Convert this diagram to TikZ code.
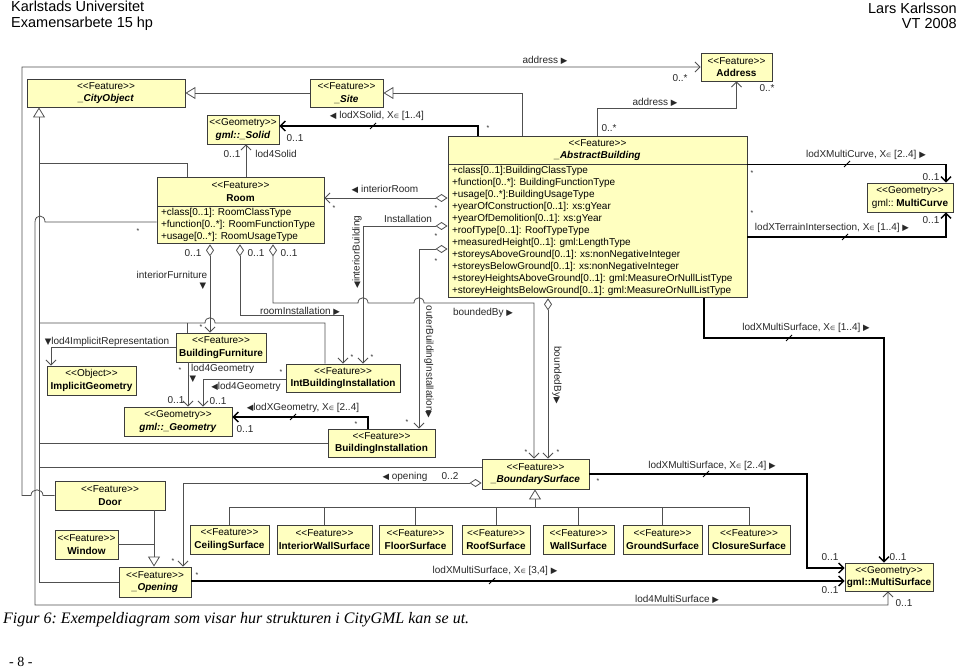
\documentclass[tikz,border=0pt]{standalone}
\usepackage{fontspec}
\setmainfont{Liberation Sans}
\newfontfamily\capfont{Liberation Serif}
\newfontfamily\symfont{DejaVu Sans}
\usetikzlibrary{arrows.meta}

\definecolor{umlyellow}{RGB}{255,255,192}
\definecolor{boxline}{RGB}{60,60,60}
\definecolor{linegray}{RGB}{80,80,80}
\definecolor{labelgray}{RGB}{40,40,40}

\newcommand\uml{\fontsize{10}{12.5}\selectfont}
\newcommand\st[1]{<{}<#1>{}>}
\newcommand\rtri{{\symfont\fontsize{8.5}{8.5}\selectfont ▶}}
\newcommand\ltri{{\symfont\fontsize{8.5}{8.5}\selectfont ◀}}
\newcommand\dtri{{\symfont\fontsize{8.5}{8.5}\selectfont ▼}}
\newcommand\xin{X{\symfont\fontsize{6}{6}\selectfont ∈}}
\newcommand\mult{{\fontsize{7}{7}\selectfont *}}

\begin{document}
\frenchspacing
\hyphenpenalty=10000
\begin{tikzpicture}[x=1pt, y=-1pt,
  cls/.style={draw=boxline, fill=umlyellow, line width=0.9pt, inner sep=1pt, align=center, font=\uml},
  attrs/.style={cls, anchor=north, align=left, inner xsep=4pt, inner ysep=1pt, font=\fontsize{10}{12}\selectfont},
  conn/.style={draw=linegray, line width=0.8pt},
  assoc/.style={conn, -{Straight Barb[length=5pt, width=10pt]}},
  agg/.style={conn, {Diamond[open, length=12pt, width=8pt]}-{Straight Barb[length=5pt, width=10pt]}},
  geo/.style={draw=black, line width=1.4pt, -{Straight Barb[length=5pt, width=10pt]}},
  gen/.style={conn, -{Triangle[open, length=10pt, width=12pt]}},
  lbl/.style={font=\uml, text=labelgray, inner sep=0pt},
  tick/.style={draw=black, line width=1pt}
]
\fill[white] (0,0) rectangle (959,668);
\useasboundingbox (0,0) rectangle (959,668);

% Sidhuvud
\node[anchor=west, align=left, inner sep=0pt, font=\fontsize{14.5}{15.5}\selectfont] (uni) at (11,16) {Karlstads Universitet\\Examensarbete 15 hp};
\node[anchor=east, align=right, inner sep=0pt, font=\fontsize{14.5}{15.5}\selectfont] (author) at (957,16) {Lars Karlsson\\VT 2008};

% Klasser
\node[cls, minimum width=158, minimum height=28] (cityobj) at (106,93) {\st{Feature}\\\textbf{\textit{\_CityObject}}};
\node[cls, minimum width=73, minimum height=28] (site) at (346.5,93) {\st{Feature}\\\textbf{\textit{\_Site}}};
\node[cls, minimum width=71, minimum height=28] (address) at (736.5,67) {\st{Feature}\\\textbf{Address}};
\node[cls, minimum width=72, minimum height=29] (solid) at (243,129.5) {\st{Geometry}\\\textbf{\textit{gml::\_Solid}}};

\node[cls, minimum width=299, minimum height=28] (abstr) at (597.5,150) {\st{Feature}\\\textbf{\textit{\_AbstractBuilding}}};
\node[attrs, minimum width=299, minimum height=133, text width=291] (abstrattr) at (abstr.south) {%
  +class[0..1]:BuildingClassType\\
  +function[0..*]: BuildingFunctionType\\
  +usage[0..*]:BuildingUsageType\\
  +yearOfConstruction[0..1]: xs:gYear\\
  +yearOfDemolition[0..1]: xs:gYear\\
  +roofType[0..1]: RoofTypeType\\
  +measuredHeight[0..1]: gml:LengthType\\
  +storeysAboveGround[0..1]: xs:nonNegativeInteger\\
  +storeysBelowGround[0..1]: xs:nonNegativeInteger\\
  +storeyHeightsAboveGround[0..1]: gml:MeasureOrNullListType\\
  +storeyHeightsBelowGround[0..1]: gml:MeasureOrNullListType};

\node[cls, minimum width=167, minimum height=29] (room) at (240.5,191.5) {\st{Feature}\\\textbf{Room}};
\node[attrs, minimum width=167, minimum height=37, text width=159] (roomattr) at (room.south) {%
  +class[0..1]: RoomClassType\\
  +function[0..*]: RoomFunctionType\\
  +usage[0..*]: RoomUsageType};

\node[cls, minimum width=86, minimum height=29] (multicurve) at (910,197.5) {\st{Geometry}\\gml:: \textbf{MultiCurve}};
\node[cls, minimum width=90, minimum height=29] (furniture) at (221,347.5) {\st{Feature}\\\textbf{BuildingFurniture}};
\node[cls, minimum width=89, minimum height=29] (implicit) at (91.5,380.5) {\st{Object}\\\textbf{ImplicitGeometry}};
\node[cls, minimum width=114, minimum height=28] (intinst) at (343,378) {\st{Feature}\\\textbf{IntBuildingInstallation}};
\node[cls, minimum width=108, minimum height=29] (geometry) at (178,421.5) {\st{Geometry}\\\textbf{\textit{gml::\_Geometry}}};
\node[cls, minimum width=107, minimum height=28] (bldinst) at (381.5,443) {\st{Feature}\\\textbf{BuildingInstallation}};
\node[cls, minimum width=107, minimum height=30] (boundary) at (535.5,474) {\st{Feature}\\\textbf{\textit{\_BoundarySurface}}};
\node[cls, minimum width=110, minimum height=29] (door) at (110,495.5) {\st{Feature}\\\textbf{Door}};
\node[cls, minimum width=63, minimum height=29] (window) at (86.5,544.5) {\st{Feature}\\\textbf{Window}};
\node[cls, minimum width=72, minimum height=30] (opening) at (155,582) {\st{Feature}\\\textbf{\textit{\_Opening}}};
\node[cls, minimum width=88, minimum height=28] (multisurf) at (889,577) {\st{Geometry}\\\textbf{gml::MultiSurface}};

% Ytor
\node[cls, minimum width=79, minimum height=29] (ceiling) at (229.5,539.5) {\st{Feature}\\\textbf{CeilingSurface}};
\node[cls, minimum width=95, minimum height=29] (intwall) at (324.5,539.5) {\st{Feature}\\\textbf{InteriorWallSurface}};
\node[cls, minimum width=73, minimum height=29] (floor) at (415.5,539.5) {\st{Feature}\\\textbf{FloorSurface}};
\node[cls, minimum width=68, minimum height=29] (roof) at (496,539.5) {\st{Feature}\\\textbf{RoofSurface}};
\node[cls, minimum width=71, minimum height=29] (wall) at (578.5,539.5) {\st{Feature}\\\textbf{WallSurface}};
\node[cls, minimum width=79, minimum height=29] (ground) at (662.5,539.5) {\st{Feature}\\\textbf{GroundSurface}};
\node[cls, minimum width=82, minimum height=29] (closure) at (749,539.5) {\st{Feature}\\\textbf{ClosureSurface}};

% Generalisering
\draw[gen] (site.west) -- (cityobj.east);
\draw[gen] (abstr.north -| 522,0) |- (site.east);
\draw[gen] (opening.west) -| (cityobj.south -| 39,0);
\draw[conn] (room.north -| 187,0) |- (39,163);
\draw[conn] (39,323) -- (205,323) .. controls (205,316) and (215,316) .. (215,323) -- (325,323) -- (intinst.north -| 325,0);
\draw[conn] (187,323) -- (furniture.north -| 187,0);
\draw[conn] (39,443) -- (bldinst.west);
\draw[conn] (39,467) -- (boundary.west |- 0,467);
\draw[gen] (door.south -| 154,0) -- (opening.north -| 154,0);
\draw[conn] (window.east) -- (window.east -| 154,0);
\draw[gen] (535,507) -- (boundary.south -| 535,0);
\draw[conn] (230,507) -- (749,507);
\foreach \s in {ceiling,intwall,floor,roof,wall,ground,closure}
  \draw[conn] (\s.north) -- (\s.north |- 0,507);

% Associationer
\draw[assoc] (door.west) -- (43,495.5) .. controls (43,488) and (31,488) .. (31,495.5) -- (22,495.5) -- (22,67) -- (address.west);
\draw[assoc] (abstr.north -| 597,0) |- (address.south |- 0,108) -- (address.south);
\draw[assoc] (room.north -| 246,0) -- (solid.south -| 246,0);
\draw[agg] (abstrattr.west |- 0,198) -- (room.east |- 0,198);
\draw[agg] (abstrattr.west |- 0,226) -| (intinst.north -| 363,0);
\draw[agg] (abstrattr.west |- 0,249) -| (bldinst.north -| 419,0);
\draw[agg] (roomattr.south -| 210,0) -- (furniture.north -| 210,0);
\draw[agg] (roomattr.south -| 240,0) |- (343,315) -- (intinst.north -| 343,0);
\draw[agg] (roomattr.south -| 273,0) -- (273,303) -- (358,303) .. controls (358,296) and (368,296) .. (368,303) -- (414,303) .. controls (414,296) and (424,296) .. (424,303) -- (534,303) -- (boundary.north -| 534,0);
\draw[agg] (abstrattr.south -| 548,0) -- (boundary.north -| 548,0);
\draw[agg] (boundary.west |- 0,483) -| (opening.north -| 183,0);
\draw[assoc] (furniture.west) -| (implicit.north -| 51,0);
\draw[assoc] (furniture.south -| 188,0) -- (geometry.north -| 188,0);
\draw[assoc] (intinst.west |- 0,379) -| (geometry.north -| 203,0);
\draw[assoc] (roomattr.west |- 0,222) -- (45,222) .. controls (45,214) and (35,214) .. (35,222) -- (35,605) -| (multisurf.south -| 888,0);

% Geometri
\draw[geo] (abstr.north -| 478,0) |- (solid.east |- 0,126);
\draw[geo] (bldinst.north -| 368,0) |- (geometry.east |- 0,417);
\draw[geo] (abstr.south east) -| (multicurve.north -| 946,0);
\draw[geo] (abstrattr.east |- 0,237) -| (multicurve.south -| 946,0);
\draw[geo] (abstrattr.south -| 704,0) |- (884,338) -- (multisurf.north -| 884,0);
\draw[geo] (boundary.east) -| (807,568) -- (multisurf.west |- 0,568);
\draw[geo] (opening.east |- 0,581) -- (multisurf.west |- 0,581);
\foreach \tx/\ty in {373/126, 293/417, 847/164, 845/237, 789/338, 706/474, 492/581}
  \draw[tick] (\tx-3,\ty+3) -- (\tx+3,\ty-3);

% Rollnamn
\node[lbl] (adr1) at (545,60) {address \rtri};
\node[lbl] (adr1m) at (680,78) {0..*};
\node[lbl] (adr2) at (655,102) {address \rtri};
\node[lbl] (adr2a) at (609,128) {0..*};
\node[lbl] (adr2b) at (767,88) {0..*};
\node[lbl] (solidl) at (377,116) {\ltri\ lodXSolid, \xin\ [1..4]};
\node[lbl] (solidm) at (295,138) {0..1};
\node[lbl] (solids) at (488,128) {\mult};
\node[lbl] (lod4sm) at (232,154) {0..1};
\node[lbl] (lod4sl) at (276,154) {lod4Solid};
\node[lbl] (iroom) at (385,189) {\ltri\ interiorRoom};
\node[lbl] (iroom1) at (334,208) {\mult};
\node[lbl] (iroom2) at (436,208) {\mult};
\node[lbl] (ibinst) at (408,219) {Installation};
\node[lbl, rotate=90] (ibuild) at (357,252) {\ltri interiorBuilding};
\node[lbl] (ibinst1) at (436,236) {\mult};
\node[lbl] (ibinst2) at (372,357) {\mult};
\node[lbl] (obinst1) at (436,261) {\mult};
\node[lbl, rotate=-90] (obinst) at (429,362) {outerBuildingInstallation\rtri};
\node[lbl] (obinst2) at (407,422) {\mult};
\node[lbl] (rd1) at (193,253) {0..1};
\node[lbl] (rd2) at (256,253) {0..1};
\node[lbl] (rd3) at (289,253) {0..1};
\node[lbl] (ifurn) at (172,275) {interiorFurniture};
\node[lbl] (ifurnt) at (203,286) {\dtri};
\node[lbl] (ifurn1) at (201,327) {\mult};
\node[lbl] (rinst) at (300,311) {roomInstallation \rtri};
\node[lbl] (rinst1) at (352,357) {\mult};
\node[lbl] (bby1) at (483,313) {boundedBy \rtri};
\node[lbl] (bby1s) at (526,452) {\mult};
\node[lbl, rotate=-90] (bby2) at (557,375) {boundedBy\rtri};
\node[lbl] (bby2s) at (558,452) {\mult};
\node[lbl] (rms) at (138,231) {\mult};
\node[lbl] (impl) at (107,342) {\dtri lod4ImplicitRepresentation};
\node[lbl] (fgeo1) at (180,370) {\mult};
\node[lbl, anchor=west] (fgeo) at (191,369) {lod4Geometry};
\node[lbl] (fgeot) at (193,379) {\dtri};
\node[lbl] (fgeo2) at (176,400) {0..1};
\node[lbl] (igeo) at (246,387) {\ltri lod4Geometry};
\node[lbl] (igeo1) at (281,372) {\mult};
\node[lbl] (igeo2) at (218,401) {0..1};
\node[lbl] (xgeo) at (303,408) {\ltri lodXGeometry, \xin\ [2..4]};
\node[lbl] (xgeo1) at (356,424) {\mult};
\node[lbl] (xgeo2) at (245,429) {0..1};
\node[lbl] (opn) at (405,477) {\ltri\ opening};
\node[lbl] (opn1) at (450,476) {0..2};
\node[lbl] (opn2) at (173,561) {\mult};
\node[lbl] (mcurve) at (866,155) {lodXMultiCurve, \xin\ [2..4] \rtri};
\node[lbl] (mcurve1) at (752,173) {\mult};
\node[lbl] (mcurve2) at (931,177) {0..1};
\node[lbl] (terrain) at (832,228) {lodXTerrainIntersection, \xin\ [1..4] \rtri};
\node[lbl] (terrain1) at (752,213) {\mult};
\node[lbl] (terrain2) at (931,220) {0..1};
\node[lbl] (msa) at (806,328) {lodXMultiSurface, \xin\ [1..4] \rtri};
\node[lbl] (msa2) at (898,557) {0..1};
\node[lbl] (msb) at (712,466) {lodXMultiSurface, \xin\ [2..4] \rtri};
\node[lbl] (msb1) at (598,481) {\mult};
\node[lbl] (msb2) at (830,557) {0..1};
\node[lbl] (msc) at (495,571) {lodXMultiSurface, \xin\ [3,4] \rtri};
\node[lbl] (msc1) at (197,575) {\mult};
\node[lbl] (msc2) at (830,590) {0..1};
\node[lbl] (msd) at (677,599) {lod4MultiSurface \rtri};
\node[lbl] (msd2) at (904,603) {0..1};

% Bildtext
\node[anchor=west, inner sep=0pt, font=\capfont\itshape\fontsize{16}{18}\selectfont] (caption) at (3,620) {Figur 6: Exempeldiagram som visar hur strukturen i CityGML kan se ut.};
\node[anchor=west, inner sep=0pt, font=\capfont\fontsize{14}{16}\selectfont] (page) at (9,662) {- 8 -};
\end{tikzpicture}
\end{document}
